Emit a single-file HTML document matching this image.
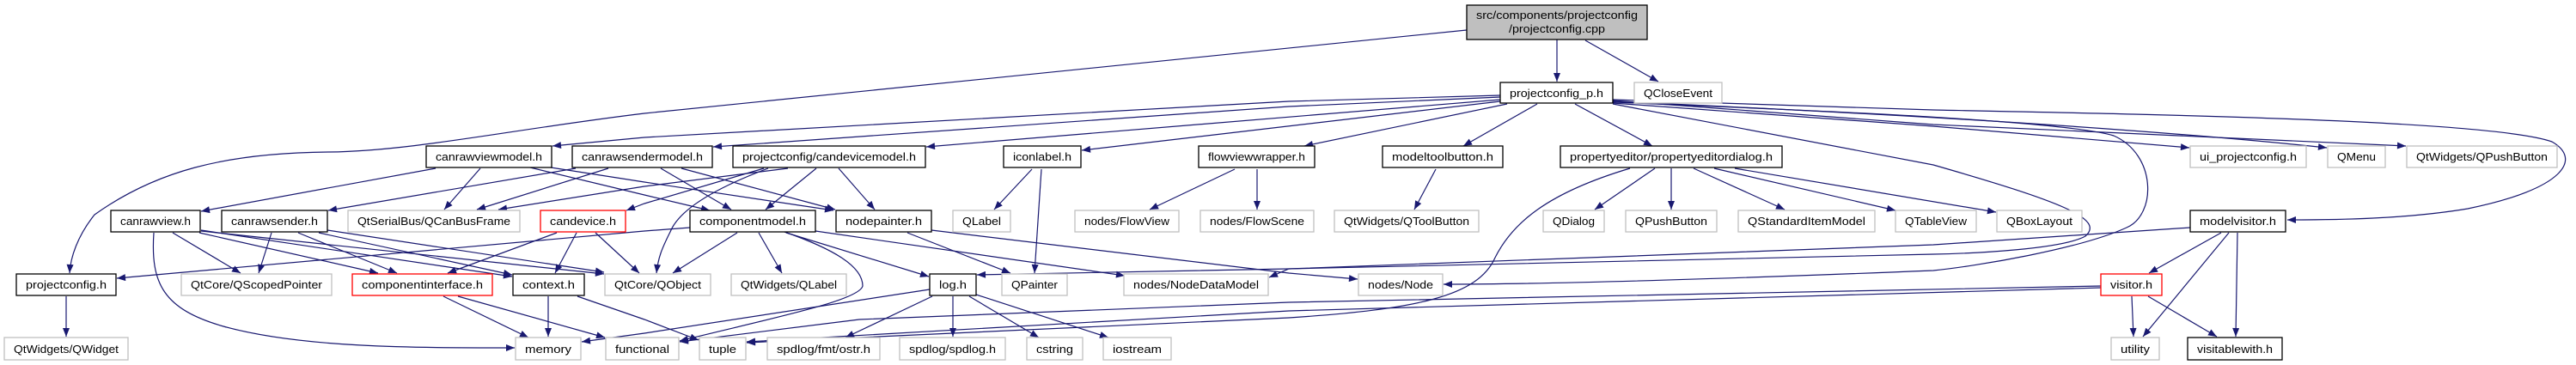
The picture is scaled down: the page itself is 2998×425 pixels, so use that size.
<!DOCTYPE html>
<html><head><meta charset="utf-8"><style>
html,body{margin:0;padding:0;background:#fff;}
svg{display:block;}
text{font-family:"Liberation Sans",sans-serif;font-size:13px;fill:#000;text-anchor:middle;}
.b{fill:#fff;stroke:#000;stroke-width:1.3;}
.g{fill:#fff;stroke:#c0c0c0;stroke-width:1.3;}
.r{fill:#fff;stroke:#ff0000;stroke-width:1.3;}
.e{fill:none;stroke:#191970;stroke-width:1.2;marker-end:url(#a);}
</style></head><body>
<svg width="2998" height="425" viewBox="0 0 2998 425" xmlns="http://www.w3.org/2000/svg">
<defs><marker id="a" markerUnits="userSpaceOnUse" viewBox="0 0 10 8" refX="10" refY="4" markerWidth="11" markerHeight="8" orient="auto"><path d="M0,0 L10,4 L0,8 z" fill="#191970"/></marker></defs>

<!-- edges -->
<path class="e" d="M1812,46 L1812,95"/>
<path class="e" d="M1845,47 L1930,95"/>
<path class="e" d="M1707,35 L750,132 C600,150 480,176 383,177 C260,178 180,200 110,250 C90,275 82,300 81,318"/>
<path class="e" d="M1746,111 L1500,118 L750,160 L643,170"/>
<path class="e" d="M1746,113 L1500,124 L830,171"/>
<path class="e" d="M1746,116 L1078,171"/>
<path class="e" d="M1746,118 L1259,175"/>
<path class="e" d="M1754,121 L1518,170"/>
<path class="e" d="M1789,121 L1703,170"/>
<path class="e" d="M1833,121 L1923,170"/>
<path class="e" d="M1877,120 L2250,147 L2548,172"/>
<path class="e" d="M1877,118 C2100,128 2450,145 2708,172"/>
<path class="e" d="M1877,117 L2250,145 L2800,170"/>
<path class="e" d="M1877,116 L2250,128 C2500,133 2900,140 2970,165 C3005,185 2985,220 2872,243 C2800,255 2720,256 2662,256"/>
<path class="e" d="M1877,119 C2100,128 2400,140 2460,158 C2510,180 2510,250 2475,265 C2420,290 2300,310 2250,315 C2000,325 1800,331 1680,331"/>
<path class="e" d="M1877,121 L2250,192 C2400,235 2450,255 2427,275 C2400,290 2300,295 2250,296 L1500,313 L1137,320"/>

<path class="e" d="M1926,196 L1856,244"/>
<path class="e" d="M1945,196 L1945,244"/>
<path class="e" d="M1971,196 L2077,244"/>
<path class="e" d="M1995,196 L2206,245"/>
<path class="e" d="M2019,196 L2323,247"/>
<path class="e" d="M1897,196 C1800,225 1760,260 1740,300 C1720,345 1650,360 1500,370 L869,399"/>

<path class="e" d="M2445,333 L1500,352 L1000,372 L791,398"/>
<path class="e" d="M2445,335 L1500,362 L869,398"/>

<path class="e" d="M1082,337 L750,388 L677,398"/>
<path class="e" d="M913,270 C970,290 1004,310 1004,333 C1000,350 900,370 791,397"/>

<path class="e" d="M507,196 L234,246"/>
<path class="e" d="M559,196 L517,244"/>
<path class="e" d="M617,195 L750,227 L826,245"/>
<path class="e" d="M641,195 L750,212 L970,245"/>
<path class="e" d="M670,196 L382,245"/>
<path class="e" d="M708,196 L555,244"/>
<path class="e" d="M769,196 L851,244"/>
<path class="e" d="M793,196 L972,244"/>
<path class="e" d="M917,196 L750,217 L580,244"/>
<path class="e" d="M889,196 L750,237 L729,245"/>
<path class="e" d="M894,196 C830,220 790,245 780,270 C770,290 766,300 764,318"/>
<path class="e" d="M950,196 L891,244"/>
<path class="e" d="M976,196 L1018,244"/>

<path class="e" d="M803,265 L750,269 L136,324"/>
<path class="e" d="M858,271 L783,318"/>
<path class="e" d="M883,271 L910,318"/>
<path class="e" d="M915,271 L1081,322"/>
<path class="e" d="M949,269 L1309,321"/>
<path class="e" d="M1056,271 L1176,318"/>
<path class="e" d="M1084,268 L1500,318 L1580,325"/>
<path class="e" d="M1201,197 L1157,244"/>
<path class="e" d="M1212,197 L1204,318"/>
<path class="e" d="M1437,197 L1338,244"/>
<path class="e" d="M1463,197 L1463,244"/>
<path class="e" d="M1671,197 L1646,244"/>

<path class="e" d="M179,271 C175,330 190,360 260,380 C350,405 480,405 599,405"/>
<path class="e" d="M201,271 L280,318"/>
<path class="e" d="M232,271 L440,318"/>
<path class="e" d="M234,268 L596,322"/>
<path class="e" d="M234,269 L703,319"/>
<path class="e" d="M316,271 L301,318"/>
<path class="e" d="M347,271 L462,318"/>
<path class="e" d="M371,271 L596,320"/>
<path class="e" d="M381,268 L703,317"/>
<path class="e" d="M648,271 L521,318"/>
<path class="e" d="M671,271 L646,318"/>
<path class="e" d="M693,271 L744,318"/>
<path class="e" d="M77,345 L77,392"/>

<path class="e" d="M516,345 L615,393"/>
<path class="e" d="M533,345 L704,393"/>
<path class="e" d="M638,345 L638,392"/>
<path class="e" d="M672,345 L750,372 L813,396"/>

<path class="e" d="M1085,345 L984,393"/>
<path class="e" d="M1109,345 L1109,392"/>
<path class="e" d="M1128,345 L1209,393"/>
<path class="e" d="M1136,343 L1290,393"/>

<path class="e" d="M2585,271 L2501,318"/>
<path class="e" d="M2594,271 L2494,392"/>
<path class="e" d="M2604,271 L2602,392"/>
<path class="e" d="M2549,265 L2250,285 L1500,313 L1477,323"/>
<path class="e" d="M2481,345 L2483,392"/>
<path class="e" d="M2500,345 L2580,392"/>

<!-- nodes -->
<rect x="1707" y="6" width="210" height="40" fill="#bfbfbf" stroke="#000" stroke-width="1.3"/>
<text x="1812" y="22" textLength="188" lengthAdjust="spacingAndGlyphs">src/components/projectconfig</text>
<text x="1812" y="38" textLength="112" lengthAdjust="spacingAndGlyphs">/projectconfig.cpp</text>

<rect class="b" x="1746" y="96" width="131" height="24"/><text x="1811.5" y="113" textLength="109" lengthAdjust="spacingAndGlyphs">projectconfig_p.h</text>
<rect class="g" x="1902" y="96" width="102" height="24"/><text x="1953" y="113" textLength="80" lengthAdjust="spacingAndGlyphs">QCloseEvent</text>

<rect class="b" x="496" y="170" width="146" height="25"/><text x="569" y="187" textLength="124" lengthAdjust="spacingAndGlyphs">canrawviewmodel.h</text>
<rect class="b" x="666" y="170" width="163" height="25"/><text x="747.5" y="187" textLength="141" lengthAdjust="spacingAndGlyphs">canrawsendermodel.h</text>
<rect class="b" x="853" y="170" width="224" height="25"/><text x="965" y="187" textLength="202" lengthAdjust="spacingAndGlyphs">projectconfig/candevicemodel.h</text>
<rect class="b" x="1168" y="170" width="90" height="25"/><text x="1213" y="187" textLength="68" lengthAdjust="spacingAndGlyphs">iconlabel.h</text>
<rect class="b" x="1395" y="170" width="135" height="25"/><text x="1462.5" y="187" textLength="113" lengthAdjust="spacingAndGlyphs">flowviewwrapper.h</text>
<rect class="b" x="1609" y="170" width="140" height="25"/><text x="1679" y="187" textLength="118" lengthAdjust="spacingAndGlyphs">modeltoolbutton.h</text>
<rect class="b" x="1816" y="170" width="258" height="25"/><text x="1945" y="187" textLength="236" lengthAdjust="spacingAndGlyphs">propertyeditor/propertyeditordialog.h</text>
<rect class="g" x="2549" y="170" width="135" height="25"/><text x="2616.5" y="187" textLength="113" lengthAdjust="spacingAndGlyphs">ui_projectconfig.h</text>
<rect class="g" x="2709" y="170" width="67" height="25"/><text x="2742.5" y="187" textLength="45" lengthAdjust="spacingAndGlyphs">QMenu</text>
<rect class="g" x="2801" y="170" width="175" height="25"/><text x="2888.5" y="187" textLength="153" lengthAdjust="spacingAndGlyphs">QtWidgets/QPushButton</text>

<rect class="b" x="129" y="245" width="104" height="25"/><text x="181" y="262" textLength="82" lengthAdjust="spacingAndGlyphs">canrawview.h</text>
<rect class="b" x="258" y="245" width="123" height="25"/><text x="319.5" y="262" textLength="101" lengthAdjust="spacingAndGlyphs">canrawsender.h</text>
<rect class="g" x="405" y="245" width="200" height="25"/><text x="505" y="262" textLength="178" lengthAdjust="spacingAndGlyphs">QtSerialBus/QCanBusFrame</text>
<rect class="r" x="629" y="245" width="99" height="25"/><text x="678.5" y="262" textLength="77" lengthAdjust="spacingAndGlyphs">candevice.h</text>
<rect class="b" x="803" y="245" width="146" height="25"/><text x="876" y="262" textLength="124" lengthAdjust="spacingAndGlyphs">componentmodel.h</text>
<rect class="b" x="973" y="245" width="111" height="25"/><text x="1028.5" y="262" textLength="89" lengthAdjust="spacingAndGlyphs">nodepainter.h</text>
<rect class="g" x="1109" y="245" width="67" height="25"/><text x="1142.5" y="262" textLength="45" lengthAdjust="spacingAndGlyphs">QLabel</text>
<rect class="g" x="1251" y="245" width="121" height="25"/><text x="1311.5" y="262" textLength="99" lengthAdjust="spacingAndGlyphs">nodes/FlowView</text>
<rect class="g" x="1397" y="245" width="132" height="25"/><text x="1463" y="262" textLength="110" lengthAdjust="spacingAndGlyphs">nodes/FlowScene</text>
<rect class="g" x="1553" y="245" width="168" height="25"/><text x="1637" y="262" textLength="146" lengthAdjust="spacingAndGlyphs">QtWidgets/QToolButton</text>
<rect class="g" x="1796" y="245" width="71" height="25"/><text x="1831.5" y="262" textLength="49" lengthAdjust="spacingAndGlyphs">QDialog</text>
<rect class="g" x="1892" y="245" width="106" height="25"/><text x="1945" y="262" textLength="84" lengthAdjust="spacingAndGlyphs">QPushButton</text>
<rect class="g" x="2023" y="245" width="159" height="25"/><text x="2102.5" y="262" textLength="137" lengthAdjust="spacingAndGlyphs">QStandardItemModel</text>
<rect class="g" x="2206" y="245" width="94" height="25"/><text x="2253" y="262" textLength="72" lengthAdjust="spacingAndGlyphs">QTableView</text>
<rect class="g" x="2324" y="245" width="99" height="25"/><text x="2373.5" y="262" textLength="77" lengthAdjust="spacingAndGlyphs">QBoxLayout</text>
<rect class="b" x="2549" y="245" width="111" height="25"/><text x="2604.5" y="262" textLength="89" lengthAdjust="spacingAndGlyphs">modelvisitor.h</text>

<rect class="b" x="19" y="319" width="116" height="25"/><text x="77" y="336" textLength="94" lengthAdjust="spacingAndGlyphs">projectconfig.h</text>
<rect class="g" x="211" y="319" width="175" height="25"/><text x="298.5" y="336" textLength="153" lengthAdjust="spacingAndGlyphs">QtCore/QScopedPointer</text>
<rect class="r" x="410" y="319" width="163" height="25"/><text x="491.5" y="336" textLength="141" lengthAdjust="spacingAndGlyphs">componentinterface.h</text>
<rect class="b" x="597" y="319" width="83" height="25"/><text x="638.5" y="336" textLength="61" lengthAdjust="spacingAndGlyphs">context.h</text>
<rect class="g" x="704" y="319" width="123" height="25"/><text x="765.5" y="336" textLength="101" lengthAdjust="spacingAndGlyphs">QtCore/QObject</text>
<rect class="g" x="851" y="319" width="134" height="25"/><text x="918" y="336" textLength="112" lengthAdjust="spacingAndGlyphs">QtWidgets/QLabel</text>
<rect class="b" x="1082" y="319" width="54" height="25"/><text x="1109" y="336" textLength="32" lengthAdjust="spacingAndGlyphs">log.h</text>
<rect class="g" x="1166" y="319" width="76" height="25"/><text x="1204" y="336" textLength="54" lengthAdjust="spacingAndGlyphs">QPainter</text>
<rect class="g" x="1308" y="319" width="168" height="25"/><text x="1392" y="336" textLength="146" lengthAdjust="spacingAndGlyphs">nodes/NodeDataModel</text>
<rect class="g" x="1581" y="319" width="98" height="25"/><text x="1630" y="336" textLength="76" lengthAdjust="spacingAndGlyphs">nodes/Node</text>
<rect class="r" x="2445" y="319" width="71" height="25"/><text x="2480.5" y="336" textLength="49" lengthAdjust="spacingAndGlyphs">visitor.h</text>

<rect class="g" x="5" y="393" width="144" height="26"/><text x="77" y="411" textLength="122" lengthAdjust="spacingAndGlyphs">QtWidgets/QWidget</text>
<rect class="g" x="600" y="393" width="76" height="26"/><text x="638" y="411" textLength="54" lengthAdjust="spacingAndGlyphs">memory</text>
<rect class="g" x="705" y="393" width="85" height="26"/><text x="747.5" y="411" textLength="63" lengthAdjust="spacingAndGlyphs">functional</text>
<rect class="g" x="814" y="393" width="54" height="26"/><text x="841" y="411" textLength="32" lengthAdjust="spacingAndGlyphs">tuple</text>
<rect class="g" x="893" y="393" width="131" height="26"/><text x="958.5" y="411" textLength="109" lengthAdjust="spacingAndGlyphs">spdlog/fmt/ostr.h</text>
<rect class="g" x="1047" y="393" width="123" height="26"/><text x="1108.5" y="411" textLength="101" lengthAdjust="spacingAndGlyphs">spdlog/spdlog.h</text>
<rect class="g" x="1195" y="393" width="65" height="26"/><text x="1227.5" y="411" textLength="43" lengthAdjust="spacingAndGlyphs">cstring</text>
<rect class="g" x="1284" y="393" width="79" height="26"/><text x="1323.5" y="411" textLength="57" lengthAdjust="spacingAndGlyphs">iostream</text>
<rect class="g" x="2457" y="393" width="56" height="26"/><text x="2485" y="411" textLength="34" lengthAdjust="spacingAndGlyphs">utility</text>
<rect class="b" x="2546" y="393" width="110" height="26"/><text x="2601" y="411" textLength="88" lengthAdjust="spacingAndGlyphs">visitablewith.h</text>
</svg>
</body></html>
